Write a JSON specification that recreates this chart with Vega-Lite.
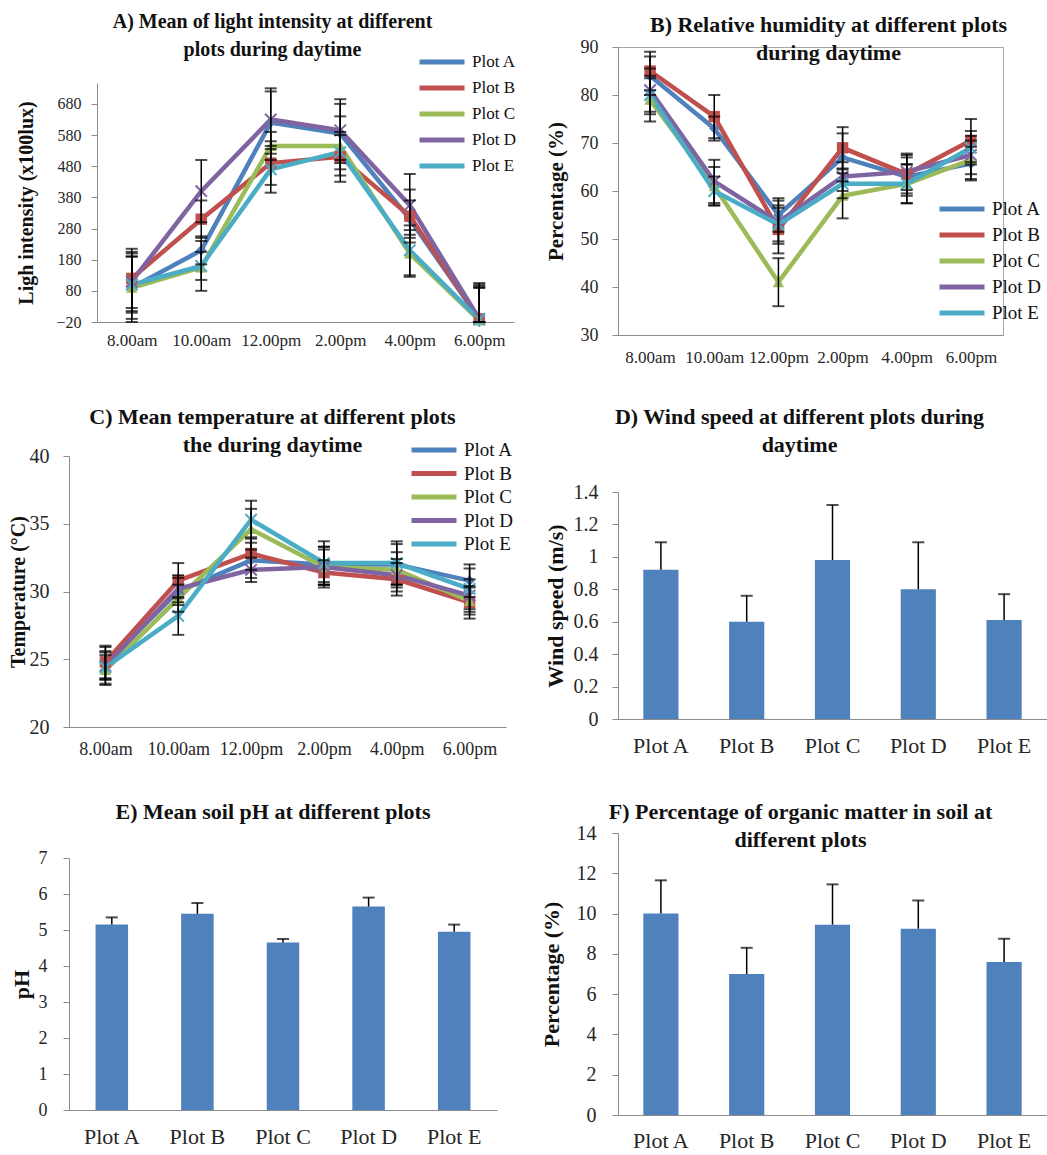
{
  "$schema": "https://vega.github.io/schema/vega-lite/v6.json",
  "padding": 0,
  "background": "white",
  "datasets": {
    "light": [
      {"time": "8.00am", "plot": "Plot A", "mean": 90, "lo": -20, "hi": 200},
      {"time": "8.00am", "plot": "Plot B", "mean": 120, "lo": 25, "hi": 215},
      {"time": "8.00am", "plot": "Plot C", "mean": 90, "lo": -10, "hi": 190},
      {"time": "8.00am", "plot": "Plot D", "mean": 110, "lo": 15, "hi": 205},
      {"time": "8.00am", "plot": "Plot E", "mean": 100, "lo": 10, "hi": 190},
      {"time": "10.00am", "plot": "Plot A", "mean": 210, "lo": 165, "hi": 255},
      {"time": "10.00am", "plot": "Plot B", "mean": 310, "lo": 250, "hi": 370},
      {"time": "10.00am", "plot": "Plot C", "mean": 155, "lo": 80, "hi": 240},
      {"time": "10.00am", "plot": "Plot D", "mean": 400, "lo": 300, "hi": 500},
      {"time": "10.00am", "plot": "Plot E", "mean": 160, "lo": 115, "hi": 205},
      {"time": "12.00pm", "plot": "Plot A", "mean": 620, "lo": 520, "hi": 720},
      {"time": "12.00pm", "plot": "Plot B", "mean": 490, "lo": 420, "hi": 560},
      {"time": "12.00pm", "plot": "Plot C", "mean": 545, "lo": 500, "hi": 590},
      {"time": "12.00pm", "plot": "Plot D", "mean": 630, "lo": 535, "hi": 730},
      {"time": "12.00pm", "plot": "Plot E", "mean": 470, "lo": 395, "hi": 545},
      {"time": "2.00pm", "plot": "Plot A", "mean": 585, "lo": 490, "hi": 680},
      {"time": "2.00pm", "plot": "Plot B", "mean": 510, "lo": 430, "hi": 590},
      {"time": "2.00pm", "plot": "Plot C", "mean": 545, "lo": 450, "hi": 640},
      {"time": "2.00pm", "plot": "Plot D", "mean": 595, "lo": 500, "hi": 695},
      {"time": "2.00pm", "plot": "Plot E", "mean": 525, "lo": 470, "hi": 580},
      {"time": "4.00pm", "plot": "Plot A", "mean": 310, "lo": 250, "hi": 370},
      {"time": "4.00pm", "plot": "Plot B", "mean": 320, "lo": 235, "hi": 405},
      {"time": "4.00pm", "plot": "Plot C", "mean": 200, "lo": 125, "hi": 275},
      {"time": "4.00pm", "plot": "Plot D", "mean": 355, "lo": 260, "hi": 455},
      {"time": "4.00pm", "plot": "Plot E", "mean": 210, "lo": 130, "hi": 290},
      {"time": "6.00pm", "plot": "Plot A", "mean": -10, "lo": -20, "hi": 100},
      {"time": "6.00pm", "plot": "Plot B", "mean": -10, "lo": -20, "hi": 105},
      {"time": "6.00pm", "plot": "Plot C", "mean": -15, "lo": -20, "hi": 90},
      {"time": "6.00pm", "plot": "Plot D", "mean": -10, "lo": -20, "hi": 95},
      {"time": "6.00pm", "plot": "Plot E", "mean": -12, "lo": -20, "hi": 90}
    ],
    "humidity": [
      {"time": "8.00am", "plot": "Plot A", "mean": 84, "lo": 80, "hi": 88},
      {"time": "8.00am", "plot": "Plot B", "mean": 85, "lo": 81, "hi": 89},
      {"time": "8.00am", "plot": "Plot C", "mean": 79, "lo": 74.5, "hi": 83.5},
      {"time": "8.00am", "plot": "Plot D", "mean": 81, "lo": 76.5, "hi": 85.5},
      {"time": "8.00am", "plot": "Plot E", "mean": 80, "lo": 76, "hi": 84},
      {"time": "10.00am", "plot": "Plot A", "mean": 73, "lo": 70.5, "hi": 75.5},
      {"time": "10.00am", "plot": "Plot B", "mean": 75.5, "lo": 71, "hi": 80},
      {"time": "10.00am", "plot": "Plot C", "mean": 61, "lo": 57, "hi": 65},
      {"time": "10.00am", "plot": "Plot D", "mean": 62, "lo": 57.5, "hi": 66.5},
      {"time": "10.00am", "plot": "Plot E", "mean": 60, "lo": 57, "hi": 63},
      {"time": "12.00pm", "plot": "Plot A", "mean": 55, "lo": 51.5, "hi": 58.5},
      {"time": "12.00pm", "plot": "Plot B", "mean": 52, "lo": 47, "hi": 57},
      {"time": "12.00pm", "plot": "Plot C", "mean": 41, "lo": 36, "hi": 46},
      {"time": "12.00pm", "plot": "Plot D", "mean": 53.5, "lo": 49, "hi": 58},
      {"time": "12.00pm", "plot": "Plot E", "mean": 53, "lo": 49.5, "hi": 56.5},
      {"time": "2.00pm", "plot": "Plot A", "mean": 67, "lo": 62, "hi": 72},
      {"time": "2.00pm", "plot": "Plot B", "mean": 69, "lo": 64.7, "hi": 73.3},
      {"time": "2.00pm", "plot": "Plot C", "mean": 59, "lo": 54.3, "hi": 63.7},
      {"time": "2.00pm", "plot": "Plot D", "mean": 63, "lo": 60, "hi": 66},
      {"time": "2.00pm", "plot": "Plot E", "mean": 61.5, "lo": 58.5, "hi": 64.5},
      {"time": "4.00pm", "plot": "Plot A", "mean": 63, "lo": 59, "hi": 67},
      {"time": "4.00pm", "plot": "Plot B", "mean": 63.5, "lo": 59.5, "hi": 67.5},
      {"time": "4.00pm", "plot": "Plot C", "mean": 61.5, "lo": 57.5, "hi": 65.5},
      {"time": "4.00pm", "plot": "Plot D", "mean": 64, "lo": 60.2, "hi": 67.8},
      {"time": "4.00pm", "plot": "Plot E", "mean": 61.5, "lo": 57.4, "hi": 65.6},
      {"time": "6.00pm", "plot": "Plot A", "mean": 65.7, "lo": 62.2, "hi": 69.2},
      {"time": "6.00pm", "plot": "Plot B", "mean": 70.5, "lo": 66, "hi": 75},
      {"time": "6.00pm", "plot": "Plot C", "mean": 66.5, "lo": 62.5, "hi": 70.5},
      {"time": "6.00pm", "plot": "Plot D", "mean": 67.5, "lo": 63.5, "hi": 71.5},
      {"time": "6.00pm", "plot": "Plot E", "mean": 69, "lo": 65.5, "hi": 72.5}
    ],
    "temperature": [
      {"time": "8.00am", "plot": "Plot A", "mean": 24.7, "lo": 23.5, "hi": 25.9},
      {"time": "8.00am", "plot": "Plot B", "mean": 24.8, "lo": 23.6, "hi": 26},
      {"time": "8.00am", "plot": "Plot C", "mean": 24.2, "lo": 23.1, "hi": 25.3},
      {"time": "8.00am", "plot": "Plot D", "mean": 24.5, "lo": 23.5, "hi": 25.5},
      {"time": "8.00am", "plot": "Plot E", "mean": 24.4, "lo": 23.2, "hi": 25.6},
      {"time": "10.00am", "plot": "Plot A", "mean": 30, "lo": 29, "hi": 31},
      {"time": "10.00am", "plot": "Plot B", "mean": 30.8, "lo": 29.5, "hi": 32.1},
      {"time": "10.00am", "plot": "Plot C", "mean": 29.5, "lo": 28.5, "hi": 30.5},
      {"time": "10.00am", "plot": "Plot D", "mean": 30.2, "lo": 29.2, "hi": 31.2},
      {"time": "10.00am", "plot": "Plot E", "mean": 28.2, "lo": 26.8, "hi": 29.6},
      {"time": "12.00pm", "plot": "Plot A", "mean": 32.3, "lo": 31, "hi": 33.6},
      {"time": "12.00pm", "plot": "Plot B", "mean": 32.8, "lo": 31.6, "hi": 34},
      {"time": "12.00pm", "plot": "Plot C", "mean": 34.6, "lo": 33.1, "hi": 36.1},
      {"time": "12.00pm", "plot": "Plot D", "mean": 31.6, "lo": 30.7, "hi": 32.5},
      {"time": "12.00pm", "plot": "Plot E", "mean": 35.3, "lo": 33.9, "hi": 36.7},
      {"time": "2.00pm", "plot": "Plot A", "mean": 32, "lo": 30.7, "hi": 33.3},
      {"time": "2.00pm", "plot": "Plot B", "mean": 31.4, "lo": 30.5, "hi": 32.3},
      {"time": "2.00pm", "plot": "Plot C", "mean": 31.8, "lo": 30.5, "hi": 33.1},
      {"time": "2.00pm", "plot": "Plot D", "mean": 31.8, "lo": 30.3, "hi": 33.3},
      {"time": "2.00pm", "plot": "Plot E", "mean": 32.1, "lo": 30.5, "hi": 33.7},
      {"time": "4.00pm", "plot": "Plot A", "mean": 32, "lo": 30.5, "hi": 33.5},
      {"time": "4.00pm", "plot": "Plot B", "mean": 30.9, "lo": 29.7, "hi": 32.1},
      {"time": "4.00pm", "plot": "Plot C", "mean": 31.6, "lo": 30.3, "hi": 32.9},
      {"time": "4.00pm", "plot": "Plot D", "mean": 31.2, "lo": 30, "hi": 32.4},
      {"time": "4.00pm", "plot": "Plot E", "mean": 32.1, "lo": 30.5, "hi": 33.7},
      {"time": "6.00pm", "plot": "Plot A", "mean": 30.8, "lo": 29.6, "hi": 32},
      {"time": "6.00pm", "plot": "Plot B", "mean": 29.2, "lo": 28, "hi": 30.4},
      {"time": "6.00pm", "plot": "Plot C", "mean": 29.3, "lo": 28.3, "hi": 30.3},
      {"time": "6.00pm", "plot": "Plot D", "mean": 29.7, "lo": 28.5, "hi": 30.9},
      {"time": "6.00pm", "plot": "Plot E", "mean": 30.2, "lo": 28.7, "hi": 31.7}
    ],
    "wind": [
      {"plot": "Plot A", "mean": 0.92, "hi": 1.09},
      {"plot": "Plot B", "mean": 0.6, "hi": 0.76},
      {"plot": "Plot C", "mean": 0.98, "hi": 1.32},
      {"plot": "Plot D", "mean": 0.8, "hi": 1.09},
      {"plot": "Plot E", "mean": 0.61, "hi": 0.77}
    ],
    "ph": [
      {"plot": "Plot A", "mean": 5.15, "hi": 5.35},
      {"plot": "Plot B", "mean": 5.45, "hi": 5.75},
      {"plot": "Plot C", "mean": 4.65, "hi": 4.75},
      {"plot": "Plot D", "mean": 5.65, "hi": 5.9},
      {"plot": "Plot E", "mean": 4.95, "hi": 5.15}
    ],
    "organic": [
      {"plot": "Plot A", "mean": 10.0, "hi": 11.65},
      {"plot": "Plot B", "mean": 7.0, "hi": 8.3},
      {"plot": "Plot C", "mean": 9.45, "hi": 11.45},
      {"plot": "Plot D", "mean": 9.25, "hi": 10.65},
      {"plot": "Plot E", "mean": 7.6, "hi": 8.75}
    ],
    "none": []
  },
  "config": {
    "view": {"stroke": null},
    "font": "Liberation Serif",
    "axis": {"labelFont": "Liberation Serif", "titleFont": "Liberation Serif", "grid": false, "domainColor": "#8c8c8c", "tickColor": "#8c8c8c", "labelColor": "#262626", "titleColor": "#111111", "titleFontWeight": "bold", "labelOverlap": false},
    "axisX": {"ticks": false, "labelAngle": 0},
    "axisY": {"tickSize": 6},
    "title": {"font": "Liberation Serif", "fontWeight": "bold", "color": "#111111", "anchor": "middle", "frame": "group", "lineHeight": 28},
    "legend": {"labelFont": "Liberation Serif", "labelColor": "#111111", "padding": 0}
  },
  "spacing": 0,
  "bounds": "flush",
  "resolve": {"scale": {"color": "independent"}, "legend": {"color": "independent"}},
  "vconcat": [
    {"width": 1, "height": 47, "data": {"name": "none"}, "mark": "point"},
    {
      "spacing": 0,
      "bounds": "flush",
      "resolve": {"scale": {"color": "independent"}, "legend": {"color": "independent"}},
      "hconcat": [
        {"width": 69, "height": 1, "data": {"name": "none"}, "mark": "point"},
        {
          "spacing": 0,
          "bounds": "flush",
          "resolve": {"scale": {"color": "independent"}, "legend": {"color": "independent"}},
          "vconcat": [
            {"width": 1, "height": 36, "data": {"name": "none"}, "mark": "point"},
            {
              "spacing": 0,
              "bounds": "flush",
              "resolve": {"scale": {"color": "independent"}, "legend": {"color": "independent"}},
              "hconcat": [
                {"width": 28, "height": 1, "data": {"name": "none"}, "mark": "point"},
                {
                  "width": 417,
                  "height": 239,
                  "data": {"name": "light"},
                  "title": {"text": ["A) Mean of light intensity at different", "plots during daytime"], "fontSize": 20, "dx": -33, "offset": -8},
                  "encoding": {
                    "x": {"field": "time", "type": "ordinal", "sort": ["8.00am", "10.00am", "12.00pm", "2.00pm", "4.00pm", "6.00pm"], "scale": {"type": "point", "padding": 0.5}, "axis": {"title": null, "labelFontSize": 17, "labelPadding": 10}},
                    "y": {"field": "mean", "type": "quantitative", "scale": {"domain": [-20, 747], "nice": false, "zero": false}, "axis": {"title": "Ligh intensity (x100lux)", "titleFontSize": 20, "values": [-20, 80, 180, 280, 380, 480, 580, 680], "labelOverlap": false, "labelFontSize": 16, "labelPadding": 10, "titlePadding": 19}}
                  },
                  "layer": [
                    {
                      "mark": {"type": "line", "strokeWidth": 4.5},
                      "encoding": {
                        "color": {"field": "plot", "type": "nominal", "scale": {"domain": ["Plot A", "Plot B", "Plot C", "Plot D", "Plot E"], "range": ["#4F81BD", "#C0504D", "#9BBB59", "#8064A2", "#4BACC6"]}, "legend": {"title": null, "orient": "none", "legendX": 335, "legendY": -31, "symbolType": "M-3,0L3,0", "symbolSize": 225, "symbolStrokeWidth": 5, "labelFontSize": 17, "labelOffset": 20, "rowPadding": 6}}
                      }
                    },
                    {"transform": [{"filter": "datum.plot === 'Plot A'"}], "mark": {"type": "point", "shape": "diamond", "filled": true, "color": "#4F81BD", "size": 110, "opacity": 1}},
                    {"transform": [{"filter": "datum.plot === 'Plot B'"}], "mark": {"type": "point", "shape": "square", "filled": true, "color": "#C0504D", "size": 130, "opacity": 1}},
                    {"transform": [{"filter": "datum.plot === 'Plot C'"}], "mark": {"type": "point", "shape": "triangle-up", "filled": true, "color": "#9BBB59", "size": 130, "opacity": 1}},
                    {"transform": [{"filter": "datum.plot === 'Plot D'"}], "mark": {"type": "point", "shape": "M-1,-1L1,1M-1,1L1,-1", "filled": false, "color": "#8064A2", "size": 130, "strokeWidth": 2, "opacity": 1}},
                    {"transform": [{"filter": "datum.plot === 'Plot E'"}], "mark": {"type": "point", "shape": "M-1,-1L1,1M-1,1L1,-1M0,-1.3L0,1.3", "filled": false, "color": "#4BACC6", "size": 130, "strokeWidth": 2, "opacity": 1}},
                    {"mark": {"type": "rule", "color": "black", "strokeWidth": 1.5}, "encoding": {"y": {"field": "lo", "type": "quantitative"}, "y2": {"field": "hi"}}},
                    {"mark": {"type": "tick", "orient": "horizontal", "color": "black", "size": 12, "thickness": 2}, "encoding": {"y": {"field": "lo", "type": "quantitative"}}},
                    {"mark": {"type": "tick", "orient": "horizontal", "color": "black", "size": 12, "thickness": 2}, "encoding": {"y": {"field": "hi", "type": "quantitative"}}}
                  ]
                }
              ]
            },
            {"width": 1, "height": 373, "data": {"name": "none"}, "mark": "point"},
            {
              "width": 437,
              "height": 271,
              "data": {"name": "temperature"},
              "title": {"text": ["C) Mean temperature at different plots", "the during daytime"], "fontSize": 22, "dx": -15, "offset": -17},
              "encoding": {
                "x": {"field": "time", "type": "ordinal", "sort": ["8.00am", "10.00am", "12.00pm", "2.00pm", "4.00pm", "6.00pm"], "scale": {"type": "point", "padding": 0.5}, "axis": {"title": null, "labelFontSize": 18, "labelPadding": 13}},
                "y": {"field": "mean", "type": "quantitative", "scale": {"domain": [20, 40], "nice": false, "zero": false}, "axis": {"title": "Temperature  (°C)", "titleFontSize": 20, "values": [20, 25, 30, 35, 40], "labelOverlap": false, "labelFontSize": 20, "labelPadding": 14, "titlePadding": 1}}
              },
              "layer": [
                {
                  "mark": {"type": "line", "strokeWidth": 4.5},
                  "encoding": {
                    "color": {"field": "plot", "type": "nominal", "scale": {"domain": ["Plot A", "Plot B", "Plot C", "Plot D", "Plot E"], "range": ["#4F81BD", "#C0504D", "#9BBB59", "#8064A2", "#4BACC6"]}, "legend": {"title": null, "orient": "none", "legendX": 355, "legendY": -16, "symbolType": "M-3,0L3,0", "symbolSize": 225, "symbolStrokeWidth": 5, "labelFontSize": 19, "labelOffset": 20, "rowPadding": 3.5}}
                  }
                },
                {"transform": [{"filter": "datum.plot === 'Plot A'"}], "mark": {"type": "point", "shape": "diamond", "filled": true, "color": "#4F81BD", "size": 110, "opacity": 1}},
                {"transform": [{"filter": "datum.plot === 'Plot B'"}], "mark": {"type": "point", "shape": "square", "filled": true, "color": "#C0504D", "size": 130, "opacity": 1}},
                {"transform": [{"filter": "datum.plot === 'Plot C'"}], "mark": {"type": "point", "shape": "triangle-up", "filled": true, "color": "#9BBB59", "size": 130, "opacity": 1}},
                {"transform": [{"filter": "datum.plot === 'Plot D'"}], "mark": {"type": "point", "shape": "M-1,-1L1,1M-1,1L1,-1", "filled": false, "color": "#8064A2", "size": 130, "strokeWidth": 2, "opacity": 1}},
                {"transform": [{"filter": "datum.plot === 'Plot E'"}], "mark": {"type": "point", "shape": "M-1,-1L1,1M-1,1L1,-1M0,-1.3L0,1.3", "filled": false, "color": "#4BACC6", "size": 130, "strokeWidth": 2, "opacity": 1}},
                {"mark": {"type": "rule", "color": "black", "strokeWidth": 1.5}, "encoding": {"y": {"field": "lo", "type": "quantitative"}, "y2": {"field": "hi"}}},
                {"mark": {"type": "tick", "orient": "horizontal", "color": "black", "size": 12, "thickness": 2}, "encoding": {"y": {"field": "lo", "type": "quantitative"}}},
                {"mark": {"type": "tick", "orient": "horizontal", "color": "black", "size": 12, "thickness": 2}, "encoding": {"y": {"field": "hi", "type": "quantitative"}}}
              ]
            },
            {"width": 1, "height": 131, "data": {"name": "none"}, "mark": "point"},
            {
              "width": 428,
              "height": 252,
              "data": {"name": "ph"},
              "title": {"text": "E) Mean soil pH at different plots", "fontSize": 22, "dx": -10, "offset": 25},
              "encoding": {
                "x": {"field": "plot", "type": "nominal", "scale": {"paddingInner": 0.62, "paddingOuter": 0.31}, "axis": {"title": null, "labelFontSize": 22, "labelPadding": 16}},
                "y": {"field": "mean", "type": "quantitative", "scale": {"domain": [0, 7], "nice": false}, "axis": {"title": "pH", "titleFontSize": 22, "values": [0, 1, 2, 3, 4, 5, 6, 7], "labelOverlap": false, "labelFontSize": 18, "labelPadding": 16, "titlePadding": 5}}
              },
              "layer": [
                {"mark": {"type": "bar", "color": "#4F81BD"}},
                {"mark": {"type": "rule", "color": "black", "strokeWidth": 1.5}, "encoding": {"y2": {"field": "hi"}}},
                {"mark": {"type": "tick", "orient": "horizontal", "color": "black", "size": 12, "thickness": 2}, "encoding": {"y": {"field": "hi", "type": "quantitative"}}}
              ]
            }
          ]
        },
        {"width": 549, "height": 1, "data": {"name": "none"}, "mark": "point"},
        {
          "spacing": 0,
          "bounds": "flush",
          "resolve": {"scale": {"color": "independent"}, "legend": {"color": "independent"}},
          "vconcat": [
            {
              "width": 385,
              "height": 288,
              "view": {"stroke": "#a6a6a6", "strokeWidth": 1},
              "data": {"name": "humidity"},
              "title": {"text": ["B) Relative humidity at different plots", "during daytime"], "fontSize": 22, "dx": 18, "offset": -27},
              "encoding": {
                "x": {"field": "time", "type": "ordinal", "sort": ["8.00am", "10.00am", "12.00pm", "2.00pm", "4.00pm", "6.00pm"], "scale": {"type": "point", "padding": 0.5}, "axis": {"title": null, "labelFontSize": 17, "labelPadding": 14}},
                "y": {"field": "mean", "type": "quantitative", "scale": {"domain": [30, 90], "nice": false, "zero": false}, "axis": {"title": "Percentage (%)", "titleFontSize": 21, "values": [30, 40, 50, 60, 70, 80, 90], "labelOverlap": false, "labelFontSize": 18, "labelPadding": 14, "titlePadding": 14}}
              },
              "layer": [
                {
                  "mark": {"type": "line", "strokeWidth": 4.5},
                  "encoding": {
                    "color": {"field": "plot", "type": "nominal", "scale": {"domain": ["Plot A", "Plot B", "Plot C", "Plot D", "Plot E"], "range": ["#4F81BD", "#C0504D", "#9BBB59", "#8064A2", "#4BACC6"]}, "legend": {"title": null, "orient": "none", "legendX": 334, "legendY": 152, "symbolType": "M-3,0L3,0", "symbolSize": 225, "symbolStrokeWidth": 5, "labelFontSize": 19, "labelOffset": 20, "rowPadding": 6}}
                  }
                },
                {"transform": [{"filter": "datum.plot === 'Plot A'"}], "mark": {"type": "point", "shape": "diamond", "filled": true, "color": "#4F81BD", "size": 110, "opacity": 1}},
                {"transform": [{"filter": "datum.plot === 'Plot B'"}], "mark": {"type": "point", "shape": "square", "filled": true, "color": "#C0504D", "size": 130, "opacity": 1}},
                {"transform": [{"filter": "datum.plot === 'Plot C'"}], "mark": {"type": "point", "shape": "triangle-up", "filled": true, "color": "#9BBB59", "size": 130, "opacity": 1}},
                {"transform": [{"filter": "datum.plot === 'Plot D'"}], "mark": {"type": "point", "shape": "M-1,-1L1,1M-1,1L1,-1", "filled": false, "color": "#8064A2", "size": 130, "strokeWidth": 2, "opacity": 1}},
                {"transform": [{"filter": "datum.plot === 'Plot E'"}], "mark": {"type": "point", "shape": "M-1,-1L1,1M-1,1L1,-1M0,-1.3L0,1.3", "filled": false, "color": "#4BACC6", "size": 130, "strokeWidth": 2, "opacity": 1}},
                {"mark": {"type": "rule", "color": "black", "strokeWidth": 1.5}, "encoding": {"y": {"field": "lo", "type": "quantitative"}, "y2": {"field": "hi"}}},
                {"mark": {"type": "tick", "orient": "horizontal", "color": "black", "size": 12, "thickness": 2}, "encoding": {"y": {"field": "lo", "type": "quantitative"}}},
                {"mark": {"type": "tick", "orient": "horizontal", "color": "black", "size": 12, "thickness": 2}, "encoding": {"y": {"field": "hi", "type": "quantitative"}}}
              ]
            },
            {"width": 1, "height": 157, "data": {"name": "none"}, "mark": "point"},
            {
              "width": 429,
              "height": 227,
              "data": {"name": "wind"},
              "title": {"text": ["D) Wind speed at different plots during", "daytime"], "fontSize": 22, "dx": -33, "offset": 25},
              "encoding": {
                "x": {"field": "plot", "type": "nominal", "scale": {"paddingInner": 0.59, "paddingOuter": 0.295}, "axis": {"title": null, "labelFontSize": 22, "labelPadding": 16}},
                "y": {"field": "mean", "type": "quantitative", "scale": {"domain": [0, 1.4], "nice": false}, "axis": {"title": "Wind speed (m/s)", "titleFontSize": 22, "values": [0, 0.2, 0.4, 0.6, 0.8, 1, 1.2, 1.4], "format": "~g", "labelOverlap": false, "labelFontSize": 20, "labelPadding": 14, "titlePadding": 6}}
              },
              "layer": [
                {"mark": {"type": "bar", "color": "#4F81BD"}},
                {"mark": {"type": "rule", "color": "black", "strokeWidth": 1.5}, "encoding": {"y2": {"field": "hi"}}},
                {"mark": {"type": "tick", "orient": "horizontal", "color": "black", "size": 12, "thickness": 2}, "encoding": {"y": {"field": "hi", "type": "quantitative"}}}
              ]
            },
            {"width": 1, "height": 114, "data": {"name": "none"}, "mark": "point"},
            {
              "width": 429,
              "height": 282,
              "data": {"name": "organic"},
              "title": {"text": ["F) Percentage of organic matter in soil at", "different plots"], "fontSize": 22, "dx": -32, "offset": -29},
              "encoding": {
                "x": {"field": "plot", "type": "nominal", "scale": {"paddingInner": 0.59, "paddingOuter": 0.295}, "axis": {"title": null, "labelFontSize": 22, "labelPadding": 15}},
                "y": {"field": "mean", "type": "quantitative", "scale": {"domain": [0, 14], "nice": false}, "axis": {"title": "Percentage (%)", "titleFontSize": 22, "values": [0, 2, 4, 6, 8, 10, 12, 14], "labelOverlap": false, "labelFontSize": 20, "labelPadding": 16, "titlePadding": 13}}
              },
              "layer": [
                {"mark": {"type": "bar", "color": "#4F81BD"}},
                {"mark": {"type": "rule", "color": "black", "strokeWidth": 1.5}, "encoding": {"y2": {"field": "hi"}}},
                {"mark": {"type": "tick", "orient": "horizontal", "color": "black", "size": 12, "thickness": 2}, "encoding": {"y": {"field": "hi", "type": "quantitative"}}}
              ]
            }
          ]
        }
      ]
    }
  ]
}
